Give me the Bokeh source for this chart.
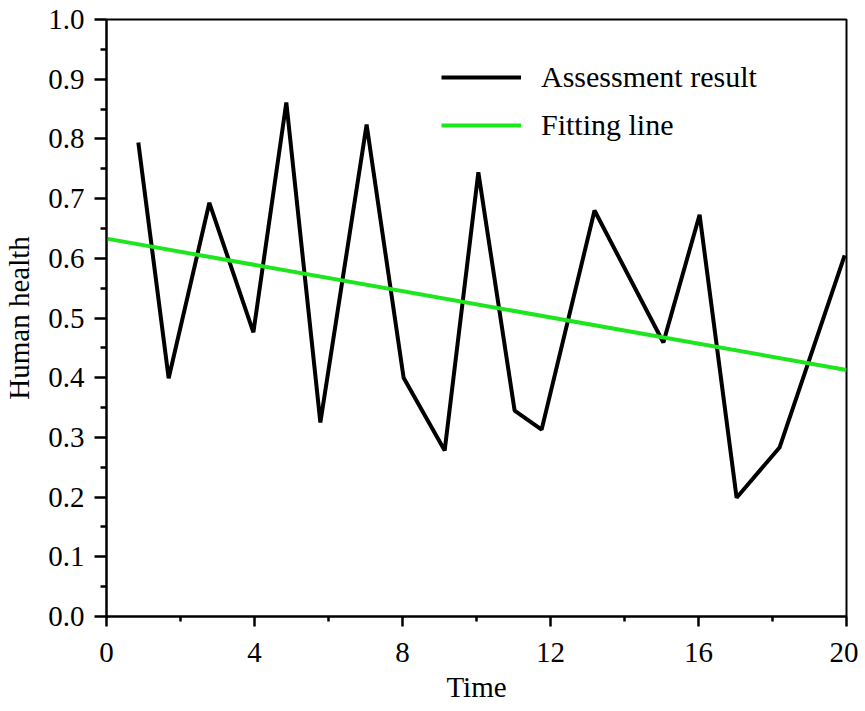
from bokeh.plotting import figure
from bokeh.models import Range1d, FixedTicker, Legend, LegendItem
from bokeh.embed import file_html
from bokeh.resources import INLINE

# Data
time_vals = [0.86, 1.68, 2.78, 3.97, 4.86, 5.78, 7.03, 8.03, 9.14, 10.05,
             11.03, 11.76, 13.19, 15.05, 16.03, 17.03, 18.19, 19.95]
health_vals = [0.794, 0.399, 0.693, 0.476, 0.861, 0.325, 0.824, 0.400, 0.278, 0.744,
               0.345, 0.313, 0.680, 0.459, 0.673, 0.199, 0.283, 0.605]
fit_x = [0, 20]
fit_y = [0.633, 0.413]
x_ticks = [0, 4, 8, 12, 16, 20]
y_ticks = [0.0, 0.1, 0.2, 0.3, 0.4, 0.5, 0.6, 0.7, 0.8, 0.9, 1.0]

FONT = "Liberation Serif"

p = figure(output_backend="svg", toolbar_location=None,
           x_range=Range1d(0, 20), y_range=Range1d(0, 1.0),
           frame_width=740, frame_height=597,
           min_border_left=97, min_border_right=12, min_border_top=19, min_border_bottom=88)
p.background_fill_color = "white"
p.border_fill_color = "white"
p.grid.visible = False
p.outline_line_color = "black"
p.outline_line_width = 2

r1 = p.line(time_vals, health_vals, line_color="black", line_width=4)
r2 = p.line(fit_x, fit_y, line_color="#1ee61e", line_width=4)

p.xaxis.ticker = FixedTicker(ticks=x_ticks, minor_ticks=[2, 6, 10, 14, 18])
p.yaxis.ticker = FixedTicker(ticks=y_ticks,
                             minor_ticks=[0.05, 0.15, 0.25, 0.35, 0.45, 0.55, 0.65, 0.75, 0.85, 0.95])
p.yaxis.major_label_overrides = {t: f"{t:.1f}" for t in y_ticks}

for ax in (p.xaxis[0], p.yaxis[0]):
    ax.axis_line_width = 2
    ax.major_tick_line_width = 2.5
    ax.minor_tick_line_width = 2.5
    ax.major_tick_in = 0
    ax.minor_tick_in = 0
    ax.major_label_text_font = FONT
    ax.major_label_text_font_size = "29px"
    ax.major_label_text_color = "black"
    ax.axis_label_text_font = FONT
    ax.axis_label_text_font_style = "normal"
    ax.axis_label_text_font_size = "29px"
    ax.axis_label_text_color = "black"

p.xaxis.major_tick_out = 10
p.xaxis.minor_tick_out = 5
p.yaxis.major_tick_out = 12
p.yaxis.minor_tick_out = 6
p.xaxis.major_label_standoff = 16
p.yaxis.major_label_standoff = 10
p.xaxis.axis_label = "Time"
p.yaxis.axis_label = "Human health"
p.xaxis.axis_label_standoff = 6
p.yaxis.axis_label_standoff = 10

legend = Legend(items=[LegendItem(label="Assessment result", renderers=[r1]),
                       LegendItem(label="Fitting line", renderers=[r2])],
                location=(335, 471))
legend.border_line_color = None
legend.background_fill_alpha = 0
legend.label_text_font = FONT
legend.label_text_color = "black"
legend.label_text_font_size = "30px"
legend.glyph_width = 80
legend.glyph_height = 40
legend.label_height = 40
legend.label_standoff = 20
legend.spacing = 8
legend.padding = 0
legend.margin = 0
p.add_layout(legend, "center")

open("out.html", "w").write(file_html(p, INLINE))
